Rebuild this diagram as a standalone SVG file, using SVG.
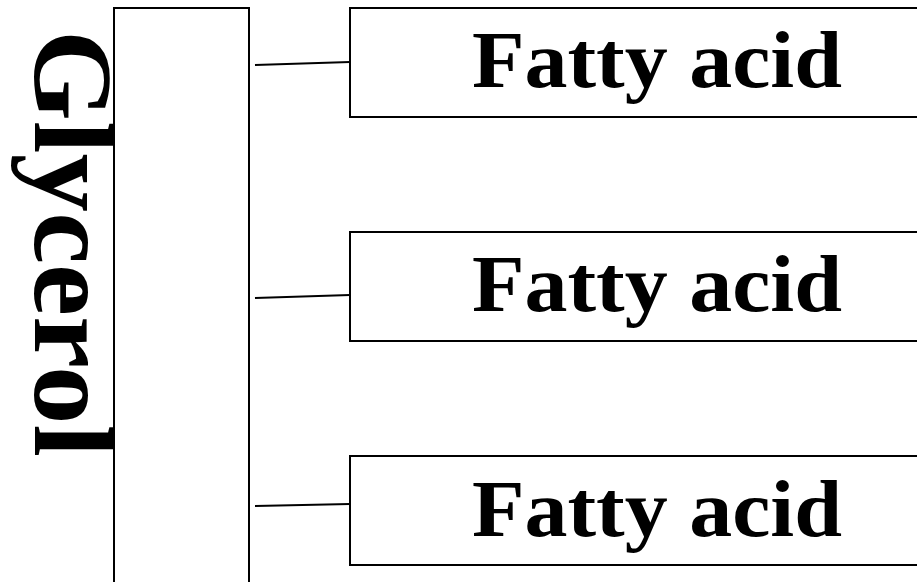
<svg xmlns="http://www.w3.org/2000/svg" width="917" height="582" viewBox="0 0 917 582">
  <style>
    .box { fill: #ffffff; stroke: #000000; stroke-width: 2; }
    .link { stroke: #000000; stroke-width: 2; fill: none; }
    .label { font-family: "Liberation Serif", "Times New Roman", serif; font-weight: bold; fill: #000000; }
  </style>
  <rect x="0" y="0" width="917" height="582" fill="#ffffff"/>

  <!-- glycerol backbone -->
  <g id="glycerol">
    <rect class="box" x="114" y="8" width="135" height="600"/>
    <text class="label" transform="translate(35,30) rotate(90)" x="0" y="0" font-size="112" textLength="427" lengthAdjust="spacingAndGlyphs">Glycerol</text>
  </g>

  <!-- ester links -->
  <g id="connectors">
    <line class="link" x1="255" y1="65" x2="350" y2="62"/>
    <line class="link" x1="255" y1="298" x2="350" y2="295"/>
    <line class="link" x1="255" y1="506" x2="350" y2="504"/>
  </g>

  <g id="fatty-acid-1">
    <rect class="box" x="350" y="8" width="600" height="109"/>
    <text class="label" x="472" y="87" font-size="80" textLength="370" lengthAdjust="spacingAndGlyphs">Fatty acid</text>
  </g>
  <g id="fatty-acid-2">
    <rect class="box" x="350" y="232" width="600" height="109"/>
    <text class="label" x="472" y="311" font-size="80" textLength="370" lengthAdjust="spacingAndGlyphs">Fatty acid</text>
  </g>
  <g id="fatty-acid-3">
    <rect class="box" x="350" y="456" width="600" height="109"/>
    <text class="label" x="472" y="536" font-size="80" textLength="370" lengthAdjust="spacingAndGlyphs">Fatty acid</text>
  </g>
</svg>
